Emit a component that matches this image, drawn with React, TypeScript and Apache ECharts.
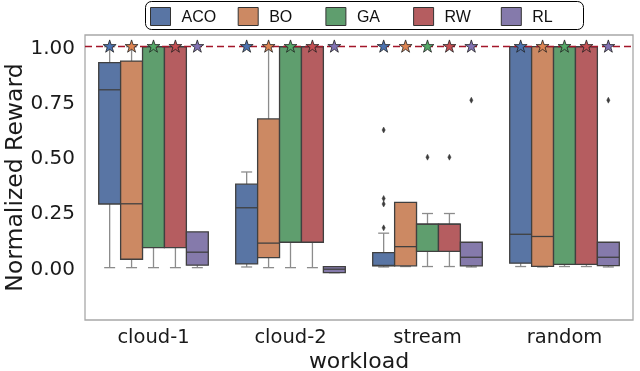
import React, { useEffect, useRef } from "react";
import * as echarts from "echarts";

const categories = ["cloud-1", "cloud-2", "stream", "random"];
const methods = ["ACO", "BO", "GA", "RW", "RL"];
const yTicks = [0, 0.25, 0.5, 0.75, 1.0];

// [min, q1, median, q3, max] per category
const acoBoxes = [
  [0.0, 0.288, 0.805, 0.928, 1.0],
  [0.003, 0.017, 0.271, 0.378, 0.433],
  [0.003, 0.008, 0.01, 0.068, 0.156],
  [0.005, 0.02, 0.151, 1.0, 1.0],
];
const boBoxes = [
  [0.0, 0.038, 0.289, 0.935, 1.0],
  [0.0, 0.045, 0.111, 0.673, 1.0],
  [0.005, 0.008, 0.095, 0.295, 0.295],
  [0.003, 0.006, 0.141, 1.0, 1.0],
];
const gaBoxes = [
  [0.0, 0.091, 1.0, 1.0, 1.0],
  [0.0, 0.115, 1.0, 1.0, 1.0],
  [0.005, 0.074, 0.197, 0.197, 0.245],
  [0.005, 0.015, 1.0, 1.0, 1.0],
];
const rwBoxes = [
  [0.0, 0.091, 1.0, 1.0, 1.0],
  [0.0, 0.115, 1.0, 1.0, 1.0],
  [0.005, 0.074, 0.197, 0.197, 0.245],
  [0.005, 0.015, 1.0, 1.0, 1.0],
];
const rlBoxes = [
  [0.0, 0.011, 0.07, 0.162, 0.162],
  [-0.023, -0.023, -0.007, 0.005, 0.005],
  [0.003, 0.008, 0.047, 0.115, 0.115],
  [0.003, 0.009, 0.047, 0.115, 0.115],
];
const allBoxes = [acoBoxes, boBoxes, gaBoxes, rwBoxes, rlBoxes];

// outliers: [categoryIndex, value]
const acoOutliers = [[2, 0.18], [2, 0.288], [2, 0.313], [2, 0.623]];
const boOutliers: number[][] = [];
const gaOutliers = [[2, 0.5]];
const rwOutliers = [[2, 0.5]];
const rlOutliers = [[2, 0.758], [3, 0.758]];
const allOutliers = [acoOutliers, boOutliers, gaOutliers, rwOutliers, rlOutliers];

// best (star) values per category, per method
const acoBest = [1.0, 1.0, 1.0, 1.0];
const boBest = [1.0, 1.0, 1.0, 1.0];
const gaBest = [1.0, 1.0, 1.0, 1.0];
const rwBest = [1.0, 1.0, 1.0, 1.0];
const rlBest = [1.0, 1.0, 1.0, 1.0];
const allBest = [acoBest, boBest, gaBest, rwBest, rlBest];

const optimum = 1.0;

const boxColors = ["#5975a4", "#cc8963", "#5f9e6e", "#b55d60", "#857aab"];
const starColors = ["#4c72b0", "#dd8452", "#55a868", "#c44e52", "#8172b3"];

const FONT = "DejaVu Sans";

function hueCenter(api: any, cat: number, h: number) {
  const band = api.size([1, 0])[0];
  const group = band * 0.8;
  const bw = group / methods.length;
  const cx = api.coord([cat, 0])[0] - group / 2 + (h + 0.5) * bw;
  return { cx, bw };
}

function boxRender(h: number) {
  return (params: any, api: any) => {
    const cat = api.value(0);
    const mn = api.value(1), q1 = api.value(2), md = api.value(3), q3 = api.value(4), mx = api.value(5);
    const { cx, bw } = hueCenter(api, cat, h);
    const y = (v: number) => api.coord([cat, v])[1];
    const capW = bw * 0.5;
    const wStyle = { stroke: "#8c8c8c", lineWidth: 1.3 };
    const bStyle = { stroke: "#404040", lineWidth: 1.3 };
    const children: any[] = [];
    if (mn < q1) {
      children.push({ type: "line", shape: { x1: cx, y1: y(mn), x2: cx, y2: y(q1) }, style: wStyle });
    }
    children.push({ type: "line", shape: { x1: cx - capW / 2, y1: y(mn), x2: cx + capW / 2, y2: y(mn) }, style: wStyle });
    if (mx > q3) {
      children.push({ type: "line", shape: { x1: cx, y1: y(q3), x2: cx, y2: y(mx) }, style: wStyle });
      children.push({ type: "line", shape: { x1: cx - capW / 2, y1: y(mx), x2: cx + capW / 2, y2: y(mx) }, style: wStyle });
    }
    const top = y(q3), bot = y(q1);
    children.push({
      type: "rect",
      shape: { x: cx - bw / 2, y: top, width: bw, height: Math.max(bot - top, 0.5) },
      style: { fill: boxColors[h], ...bStyle },
    });
    children.push({ type: "line", shape: { x1: cx - bw / 2, y1: y(md), x2: cx + bw / 2, y2: y(md) }, style: bStyle });
    return { type: "group", children };
  };
}

function outlierRender(h: number) {
  return (params: any, api: any) => {
    const cat = api.value(0);
    const v = api.value(1);
    const { cx } = hueCenter(api, cat, h);
    const cy = api.coord([cat, v])[1];
    return {
      type: "polygon",
      shape: { points: [[cx, cy - 3], [cx + 1.6, cy], [cx, cy + 3], [cx - 1.6, cy]] },
      style: { fill: "#3d3d3d", stroke: "#3d3d3d", lineWidth: 0.5 },
    };
  };
}

function starRender(h: number) {
  return (params: any, api: any) => {
    const cat = api.value(0);
    const v = api.value(1);
    const { cx } = hueCenter(api, cat, h);
    const cy = api.coord([cat, v])[1];
    const R = 6.8, r = R * 0.382;
    const pts: number[][] = [];
    for (let i = 0; i < 10; i++) {
      const ang = -Math.PI / 2 + (i * Math.PI) / 5;
      const rad = i % 2 === 0 ? R : r;
      pts.push([cx + rad * Math.cos(ang), cy + rad * Math.sin(ang)]);
    }
    return {
      type: "polygon",
      shape: { points: pts },
      style: { fill: starColors[h], stroke: "#222", lineWidth: 0.8 },
    };
  };
}

export default function App() {
  const ref = useRef<HTMLDivElement>(null);
  useEffect(() => {
    if (!ref.current) return;
    const chart = echarts.init(ref.current, null, { renderer: "svg" });
    const series: any[] = [];
    methods.forEach((m, h) => {
      series.push({
        name: m,
        type: "custom",
        renderItem: boxRender(h),
        data: allBoxes[h].map((b, i) => [i, ...b]),
        encode: { x: 0, y: [1, 2, 3, 4, 5] },
        itemStyle: { color: boxColors[h], borderColor: "#333", borderWidth: 1 },
        z: 2,
      });
    });
    methods.forEach((m, h) => {
      series.push({
        name: m + "-outliers",
        type: "custom",
        renderItem: outlierRender(h),
        data: allOutliers[h],
        encode: { x: 0, y: 1 },
        z: 3,
      });
    });
    series.push({
      name: "optimum",
      type: "line",
      data: [],
      z: 4,
      markLine: {
        silent: true,
        symbol: "none",
        label: { show: false },
        lineStyle: { color: "#a3162a", type: [7, 4], width: 1.4 },
        data: [{ yAxis: optimum }],
      },
    });
    methods.forEach((m, h) => {
      series.push({
        name: m + "-best",
        type: "custom",
        renderItem: starRender(h),
        data: allBest[h].map((v, i) => [i, v]),
        encode: { x: 0, y: 1 },
        z: 5,
      });
    });

    const legends = methods.map((m, i) => ({
      data: [m],
      left: 150 + 87.7 * i,
      top: 7,
      orient: "horizontal",
      icon: "rect",
      itemWidth: 20,
      itemHeight: 18,
      padding: 0,
      itemStyle: { borderColor: "#333", borderWidth: 1 },
      textStyle: {
        fontFamily: "Liberation Sans",
        fontSize: 16,
        color: "#111",
        padding: [0, 0, 0, 6],
      },
    }));

    chart.setOption({
      animation: false,
      graphic: [
        {
          type: "rect",
          left: 145,
          top: 1,
          z: -1,
          shape: { width: 438, height: 28, r: 6 },
          style: { fill: "#fff", stroke: "#000", lineWidth: 1 },
        },
      ],
      grid: {
        left: 85,
        right: 7,
        top: 35,
        bottom: 51,
        containLabel: false,
        outerBoundsMode: "none",
        show: true,
        borderColor: "#a8a8a8",
        borderWidth: 1.3,
        backgroundColor: "transparent",
      },
      legend: legends,
      xAxis: {
        type: "category",
        data: categories,
        boundaryGap: true,
        axisLine: { show: false },
        axisTick: { show: false },
        splitLine: { show: false },
        axisLabel: { fontFamily: FONT, fontSize: 19.5, color: "#1a1a1a", margin: 6 },
        name: "workload",
        nameLocation: "middle",
        nameGap: 31,
        nameMoveOverlap: false,
        nameTextStyle: { fontFamily: FONT, fontSize: 22, color: "#1a1a1a", lineHeight: 18 },
      },
      yAxis: {
        type: "value",
        min: -0.237,
        max: 1.053,
        axisLine: { show: false },
        axisTick: { show: false },
        splitLine: { show: false },
        axisLabel: {
          fontFamily: FONT,
          fontSize: 20,
          color: "#1a1a1a",
          margin: 10,
          customValues: yTicks,
          formatter: (v: number) => v.toFixed(2),
        },
        name: "Normalized Reward",
        nameLocation: "middle",
        nameGap: 60,
        nameMoveOverlap: false,
        nameTextStyle: { fontFamily: FONT, fontSize: 23.5, color: "#1a1a1a", lineHeight: 22 },
      },
      series,
    });
    return () => chart.dispose();
  }, []);
  return (
    <div
      ref={ref}
      style={{ position: "fixed", left: 0, top: 0, width: 640, height: 371 }}
    />
  );
}
